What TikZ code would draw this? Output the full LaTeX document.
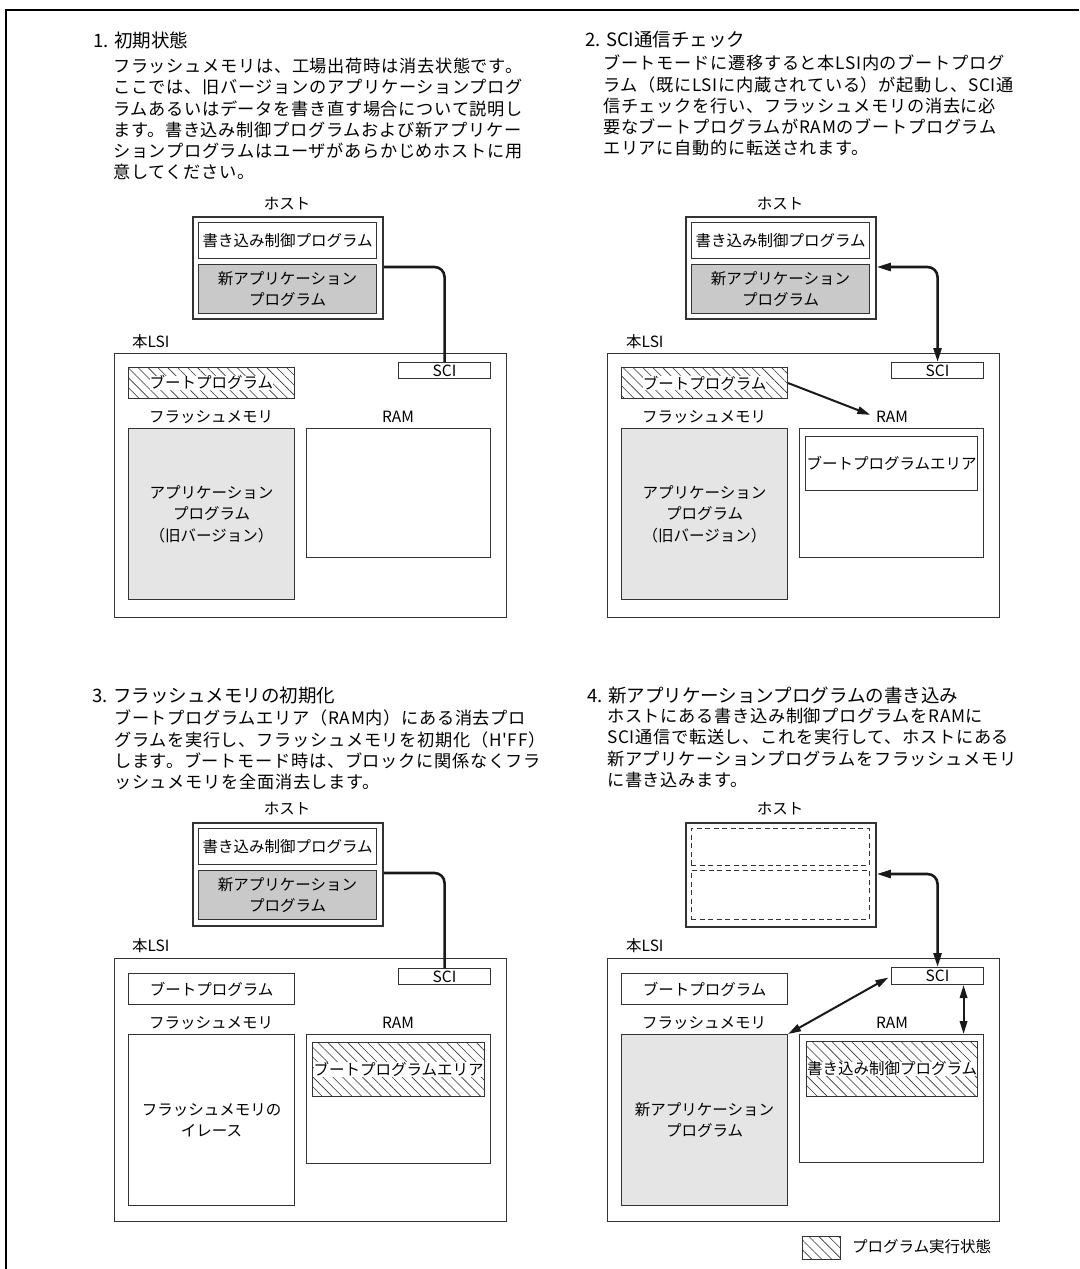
\documentclass[tikz,border=0pt]{standalone}
\usepackage{fontspec}
\setmainfont{Noto Sans CJK JP}
\newfontfamily\bodyjp{Noto Sans CJK JP}[LetterSpace=4]
\usetikzlibrary{arrows.meta,patterns.meta}
\definecolor{ln}{gray}{0.2}
\definecolor{hostgray}{gray}{0.79}
\definecolor{flashgray}{gray}{0.9}
\newcommand\bodyfont{\bodyjp\fontsize{17.2}{21.2}\selectfont}
\newcommand\titlefont{\fontsize{18.5}{22}\selectfont}
\newcommand\dfont{\fontsize{15.5}{21.5}\selectfont}
\tikzset{
  box/.style={draw=ln, line width=1.1pt, inner sep=0pt, anchor=north west, align=center, font=\dfont},
  hostbox/.style={box, line width=1.8pt},
  gbox/.style={box, fill=hostgray},
  fbox/.style={box, fill=flashgray},
  dbox/.style={box, line width=0.8pt, dash pattern=on 5pt off 3.5pt},
  hatch/.style={box, pattern={Lines[angle=-45,distance=7pt,line width=0.6pt]}, pattern color=ln},
  htext/.style={fill=white, inner sep=0pt, font=\dfont},
  lab/.style={inner sep=0pt, font=\dfont},
  ttl/.style={inner sep=0pt, anchor=west, font=\titlefont},
  body/.style={inner sep=0pt, anchor=north west, align=left, font=\bodyfont},
  conn/.style={line width=2.6pt, draw=black!90, rounded corners=10pt},
  dtip/.style={{Triangle[length=14pt,width=8pt]}-{Triangle[length=14pt,width=8pt]}},
  thinarr/.style={line width=2pt, draw=black!90, -{Triangle[length=13pt,width=7.5pt]}},
  thindarr/.style={line width=2pt, draw=black!90, {Triangle[length=13pt,width=7.5pt]}-{Triangle[length=13pt,width=7.5pt]}},
}
\begin{document}
\begin{tikzpicture}[x=1pt,y=-1pt]
\useasboundingbox (0,0) rectangle (1079,1269);
% page frame
\draw[line width=2pt] (6,1269) -- (6,10) -- (1079,10);

% ===================== Quadrant 1 =====================
\node[ttl] (t1) at (93,40) {1. 初期状態};
\node[body] (p1) at (113,58) {フラッシュメモリは、工場出荷時は消去状態です。\\
ここでは、旧バージョンのアプリケーションプログ\\
ラムあるいはデータを書き直す場合について説明し\\
ます。書き込み制御プログラムおよび新アプリケー\\
ションプログラムはユーザがあらかじめホストに用\\
意してください。};
\node[lab] (hl1) at (287,204) {ホスト};
\node[hostbox, minimum width=190pt, minimum height=102pt] (h1) at (192,216) {};
\node[box, minimum width=178pt, minimum height=36pt] (h1w) at (198,222) {書き込み制御プログラム};
\node[gbox, minimum width=178pt, minimum height=49pt] (h1a) at (198,264) {新アプリケーション\\プログラム};
\node[lab, anchor=west] (ll1) at (132,342) {本LSI};
\node[box, minimum width=392pt, minimum height=264pt] (L1) at (114,353) {};
\node[box, minimum width=92pt, minimum height=16pt] (s1) at (398,362) {SCI};
\node[hatch, minimum width=166pt, minimum height=31pt] (b1) at (128,367) {};
\node[htext] (b1t) at (b1.center) {ブートプログラム};
\node[lab] (fl1) at (211,417) {フラッシュメモリ};
\node[lab] (rl1) at (398,417) {RAM};
\node[fbox, minimum width=166pt, minimum height=171pt] (f1) at (128,428) {アプリケーション\\プログラム\\（旧バージョン）};
\node[box, minimum width=184pt, minimum height=129pt] (r1) at (306,428) {};
\draw[conn] ([yshift=-3pt]h1a.north -| h1.east) -| (s1.north);

% ===================== Quadrant 2 =====================
\node[ttl] (t2) at (585,39) {2. SCI通信チェック};
\node[body] (p2) at (603,55) {ブートモードに遷移すると本LSI内のブートプログ\\
ラム（既にLSIに内蔵されている）が起動し、SCI通\\
信チェックを行い、フラッシュメモリの消去に必\\
要なブートプログラムがRAMのブートプログラム\\
エリアに自動的に転送されます。};
\node[lab] (hl2) at (780,204) {ホスト};
\node[hostbox, minimum width=190pt, minimum height=102pt] (h2) at (685,216) {};
\node[box, minimum width=178pt, minimum height=36pt] (h2w) at (691,222) {書き込み制御プログラム};
\node[gbox, minimum width=178pt, minimum height=49pt] (h2a) at (691,264) {新アプリケーション\\プログラム};
\node[lab, anchor=west] (ll2) at (626,342) {本LSI};
\node[box, minimum width=392pt, minimum height=264pt] (L2) at (607,353) {};
\node[box, minimum width=92pt, minimum height=16pt] (s2) at (891,362) {SCI};
\node[hatch, minimum width=166pt, minimum height=31pt] (b2) at (621,367) {};
\node[htext] (b2t) at (b2.center) {ブートプログラム};
\node[lab] (fl2) at (704,417) {フラッシュメモリ};
\node[lab] (rl2) at (892,417) {RAM};
\node[fbox, minimum width=166pt, minimum height=171pt] (f2) at (621,428) {アプリケーション\\プログラム\\（旧バージョン）};
\node[box, minimum width=184pt, minimum height=129pt] (r2) at (799,428) {};
\node[box, minimum width=172pt, minimum height=54pt] (a2) at (805,436) {ブートプログラムエリア};
\draw[conn, dtip] ([yshift=-3pt]h2a.north -| h2.east) -| (s2.north);
\draw[thinarr, shorten >=6pt] (b2.east) -- (rl2.west);

% ===================== Quadrant 3 =====================
\node[ttl] (t3) at (92,695) {3. フラッシュメモリの初期化};
\node[body] (p3) at (114,710) {ブートプログラムエリア（RAM内）にある消去プロ\\
グラムを実行し、フラッシュメモリを初期化（H'FF）\\
します。ブートモード時は、ブロックに関係なくフラ\\
ッシュメモリを全面消去します。};
\node[lab] (hl3) at (287,809) {ホスト};
\node[hostbox, minimum width=190pt, minimum height=103pt] (h3) at (192,822) {};
\node[box, minimum width=178pt, minimum height=36pt] (h3w) at (198,828) {書き込み制御プログラム};
\node[gbox, minimum width=178pt, minimum height=49pt] (h3a) at (198,870) {新アプリケーション\\プログラム};
\node[lab, anchor=west] (ll3) at (132,946) {本LSI};
\node[box, minimum width=392pt, minimum height=263pt] (L3) at (114,958) {};
\node[box, minimum width=92pt, minimum height=16pt] (s3) at (398,968) {SCI};
\node[box, minimum width=166pt, minimum height=31pt] (b3) at (128,973) {ブートプログラム};
\node[lab] (fl3) at (211,1023) {フラッシュメモリ};
\node[lab] (rl3) at (398,1023) {RAM};
\node[box, minimum width=166pt, minimum height=171pt] (f3) at (128,1034) {フラッシュメモリの\\イレース};
\node[box, minimum width=184pt, minimum height=129pt] (r3) at (306,1034) {};
\node[hatch, minimum width=172pt, minimum height=54pt] (a3) at (312,1042) {};
\node[htext] (a3t) at (a3.center) {ブートプログラムエリア};
\draw[conn] ([yshift=-3pt]h3a.north -| h3.east) -| (s3.north);

% ===================== Quadrant 4 =====================
\node[ttl] (t4) at (587,695) {4. 新アプリケーションプログラムの書き込み};
\node[body] (p4) at (607,708) {ホストにある書き込み制御プログラムをRAMに\\
SCI通信で転送し、これを実行して、ホストにある\\
新アプリケーションプログラムをフラッシュメモリ\\
に書き込みます。};
\node[lab] (hl4) at (780,809) {ホスト};
\node[hostbox, minimum width=190pt, minimum height=104pt] (h4) at (685,822) {};
\node[dbox, minimum width=178pt, minimum height=37pt] (h4w) at (691,828) {};
\node[dbox, minimum width=178pt, minimum height=49pt] (h4a) at (691,870) {};
\node[lab, anchor=west] (ll4) at (626,946) {本LSI};
\node[box, minimum width=392pt, minimum height=263pt] (L4) at (607,958) {};
\node[box, minimum width=92pt, minimum height=17pt] (s4) at (891,967) {SCI};
\node[box, minimum width=166pt, minimum height=31pt] (b4) at (621,973) {ブートプログラム};
\node[lab] (fl4) at (704,1023) {フラッシュメモリ};
\node[lab] (rl4) at (892,1023) {RAM};
\node[fbox, minimum width=166pt, minimum height=171pt] (f4) at (621,1034) {新アプリケーション\\プログラム};
\node[box, minimum width=184pt, minimum height=128pt] (r4) at (799,1034) {};
\node[hatch, minimum width=171pt, minimum height=55pt] (a4) at (806,1041) {};
\node[htext] (a4t) at (a4.center) {書き込み制御プログラム};
\draw[conn, dtip] ([yshift=-4pt]h4a.north -| h4.east) -| (s4.north);
\draw[thindarr, shorten >=3pt] (f4.north east) -- (s4.west);
\draw[thindarr] ([xshift=26pt]s4.south) -- ([xshift=26pt]s4.south |- r4.north);

% legend
\node[hatch, minimum width=38pt, minimum height=23pt] (lg) at (802,1236) {};
\node[lab, anchor=west] (lgt) at (852,1247) {プログラム実行状態};
\end{tikzpicture}
\end{document}
